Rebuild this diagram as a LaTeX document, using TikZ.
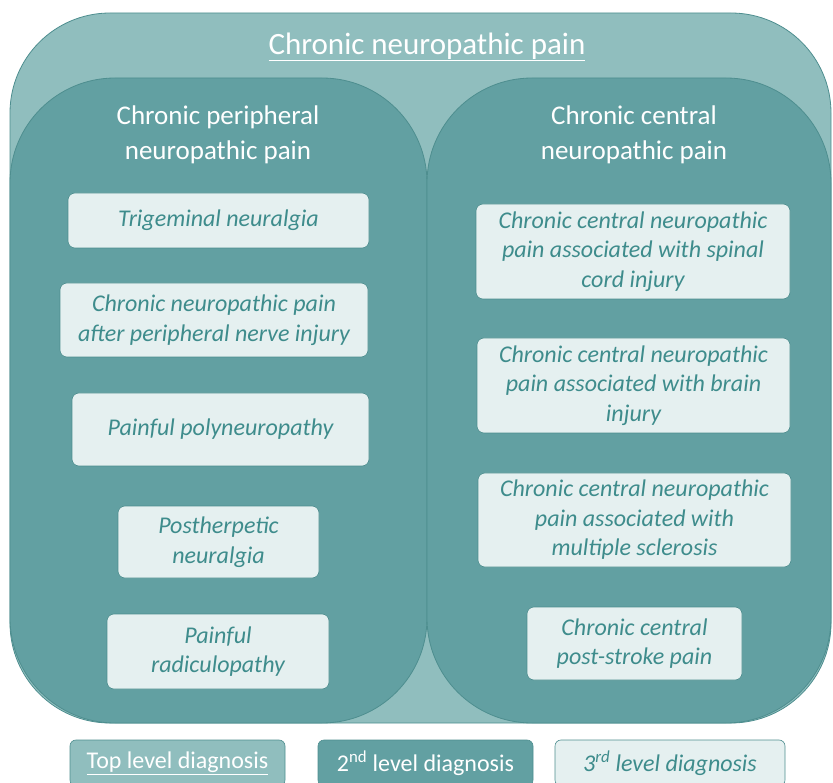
\documentclass[tikz,border=0pt]{standalone}
\usepackage{fontspec}
\setmainfont{Carlito}
\usetikzlibrary{positioning}
\definecolor{toplvl}{RGB}{144,190,190}
\definecolor{seclvl}{RGB}{98,160,162}
\definecolor{tealline}{RGB}{78,142,143}
\definecolor{thirdfill}{RGB}{229,240,240}
\definecolor{thirdtext}{RGB}{62,140,140}
\begin{document}
\begin{tikzpicture}[x=1pt, y=-1pt,
  toparea/.style={rectangle, rounded corners=100pt, fill=toplvl, draw=tealline, line width=0.8pt, inner sep=0pt},
  secarea/.style={rectangle, rounded corners=105pt, fill=seclvl, draw=tealline, line width=0.8pt, inner sep=0pt,
                  minimum height=645pt},
  head/.style={text=white, align=center, font=\fontsize{27}{35}\selectfont},
  diag/.style={rectangle, rounded corners=7pt, fill=thirdfill, draw=tealline, line width=0.6pt,
               text=thirdtext, align=center, inner sep=0pt, font=\fontsize{24}{29.5}\selectfont\itshape},
  legend/.style={rectangle, rounded corners=6pt, draw=tealline, line width=0.6pt, minimum width=215pt,
                 minimum height=46pt, inner sep=0pt, font=\fontsize{24}{28}\selectfont}
]
\useasboundingbox (0,0) rectangle (833,783);

% Top level
\node[toparea, minimum width=821pt, minimum height=710pt] (cnp) at (420.5,368) {};
\node[text=white, font=\fontsize{31}{34}\selectfont] (cnpT) at (427,47) {\underline{Chronic neuropathic pain}};

% Second level
\node[secarea, minimum width=417pt] (cpnp) at (218.5,400.5) {};
\node[secarea, minimum width=404pt] (ccnp) at (629,400.5) {};
\node[head] (cpnpT) at (218,135) {Chronic peripheral\\neuropathic pain};
\node[head] (ccnpT) at (634,135) {Chronic central\\neuropathic pain};

% Third level, peripheral
\node[diag, minimum width=301pt, minimum height=55pt] (tn) at (218.5,220.5) {Trigeminal neuralgia};
\node[diag, minimum width=308pt, minimum height=74pt] (pni) at (214,320) {Chronic neuropathic pain\\after peripheral nerve injury};
\node[diag, minimum width=297pt, minimum height=73pt] (pp) at (220.5,429.5) {Painful polyneuropathy};
\node[diag, minimum width=201pt, minimum height=72pt] (phn) at (218.5,542) {Postherpetic\\neuralgia};
\node[diag, minimum width=222pt, minimum height=75pt] (pr) at (218,651.5) {Painful\\radiculopathy};

% Third level, central
\node[diag, minimum width=314pt, minimum height=95pt] (sci) at (633,251.5) {Chronic central neuropathic\\pain associated with spinal\\cord injury};
\node[diag, minimum width=313pt, minimum height=95pt] (bi) at (633.5,385.5) {Chronic central neuropathic\\pain associated with brain\\injury};
\node[diag, minimum width=313pt, minimum height=94pt] (ms) at (634.5,520) {Chronic central neuropathic\\pain associated with\\multiple sclerosis};
\node[diag, minimum width=215pt, minimum height=73pt] (psp) at (634.5,643.5) {Chronic central\\post-stroke pain};

% Legend
\node[legend, fill=toplvl, text=white] (lgTop) at (177.5,763) {\underline{Top level diagnosis}};
\node[legend, fill=seclvl, text=white] (lgSec) at (425.5,763) {2\textsuperscript{nd} level diagnosis};
\node[legend, fill=thirdfill, text=thirdtext, minimum width=230pt, font=\fontsize{24}{28}\selectfont\itshape] (lgThird) at (670,763) {3\textsuperscript{rd} level diagnosis};
\end{tikzpicture}
\end{document}
